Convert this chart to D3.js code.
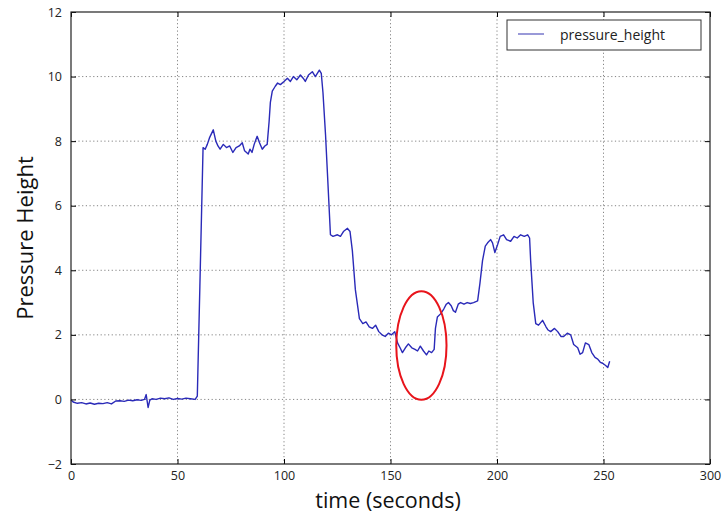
<!DOCTYPE html>
<html>
<head>
<meta charset="utf-8">
<script src="https://cdn.jsdelivr.net/npm/d3@7"></script>
<style>
  body { margin: 0; background: #fff; }
  text { font-family: "Open Sans", sans-serif; }
</style>
</head>
<body>
<div id="chart"></div>
<script>
// data
const timeSec = [0, 1, 3, 5, 7, 9, 11, 13, 15, 17, 19, 21, 23, 25, 27, 29, 31, 33, 34.5, 35.3, 36.2, 37, 38, 40, 42, 44, 46, 48, 50, 52, 54, 56, 58.3, 59.3, 60.5, 62, 63, 64, 65, 66.8, 68, 69, 70, 71.5, 73, 74.5, 76, 77.5, 79, 80.4, 81.5, 83.2, 84, 85, 86, 87.4, 88.5, 89.8, 91, 92.1, 93, 93.6, 94.5, 95.9, 97, 98.3, 100, 101.6, 103, 104.4, 106, 107.7, 109, 110, 111.5, 113.3, 114.7, 116.6, 117.5, 118.3, 119.5, 120.4, 121.8, 123, 125.1, 126.5, 127.9, 129.8, 131, 132.1, 133.5, 135.4, 137, 138.5, 140, 141.5, 143, 144.5, 146, 147.5, 149, 150.5, 152, 153.3, 154.5, 155.6, 157, 158.4, 160, 161.5, 162.7, 164, 165.5, 166.9, 168, 169.3, 170.5, 171.1, 172, 173.5, 175, 176.2, 177.2, 178.5, 179.5, 180.5, 181.8, 182.9, 184.5, 186, 187.5, 189, 190.9, 192, 193.2, 194.5, 195.6, 197, 197.9, 199, 200.3, 201.5, 203.1, 204.5, 206.4, 208, 209.5, 211.1, 212.8, 214.4, 215.3, 215.8, 217, 218.2, 219.5, 221.4, 223, 224, 225.2, 227, 228.5, 230, 231.3, 233, 234.6, 236, 237.9, 239, 240.2, 241.5, 243.1, 244.5, 246, 247.3, 248.5, 249.6, 251, 252, 252.9];
const pressureHeight = [-0.02, -0.08, -0.12, -0.1, -0.14, -0.11, -0.15, -0.12, -0.13, -0.1, -0.14, -0.05, -0.04, -0.06, -0.02, -0.04, -0.01, -0.03, 0.0, 0.15, -0.25, -0.02, 0.02, 0.0, 0.04, 0.02, 0.05, 0.0, 0.03, 0.01, 0.04, 0.02, 0.0, 0.1, 3.5, 7.8, 7.75, 7.9, 8.1, 8.35, 8.0, 7.85, 7.75, 7.9, 7.8, 7.85, 7.65, 7.8, 7.85, 7.95, 7.7, 7.6, 7.75, 7.65, 7.9, 8.15, 7.95, 7.75, 7.85, 7.9, 8.6, 9.2, 9.55, 9.7, 9.8, 9.75, 9.85, 9.95, 9.85, 10.0, 9.9, 10.05, 9.95, 9.85, 10.05, 10.15, 10.0, 10.2, 10.1, 9.5, 8.2, 7.0, 5.1, 5.05, 5.1, 5.05, 5.2, 5.3, 5.2, 4.6, 3.4, 2.5, 2.35, 2.4, 2.25, 2.2, 2.3, 2.1, 2.0, 1.95, 2.05, 2.0, 2.1, 1.75, 1.6, 1.45, 1.6, 1.72, 1.6, 1.55, 1.5, 1.65, 1.5, 1.38, 1.5, 1.45, 1.55, 2.2, 2.55, 2.65, 2.8, 2.95, 3.0, 2.9, 2.75, 2.7, 2.95, 3.0, 2.95, 3.0, 2.97, 3.0, 3.05, 3.6, 4.3, 4.75, 4.85, 4.95, 4.85, 4.55, 4.8, 5.05, 5.1, 4.95, 4.9, 5.05, 5.0, 5.1, 5.05, 5.1, 5.0, 4.3, 3.0, 2.35, 2.3, 2.45, 2.25, 2.15, 2.1, 2.2, 2.1, 1.95, 1.95, 2.05, 2.0, 1.7, 1.6, 1.4, 1.45, 1.75, 1.7, 1.45, 1.3, 1.25, 1.15, 1.12, 1.05, 0.99, 1.18];
const xTicks = [0, 50, 100, 150, 200, 250, 300];
const yTicks = [-2, 0, 2, 4, 6, 8, 10, 12];
// red highlight ellipse (centre time, centre height, half-width in s, half-height)
const highlight = {t: 164.5, v: 1.67, rt: 11.8, rv: 1.68};

const width = 726, height = 513;
const margin = {top: 12, right: 16, bottom: 49, left: 71};
const innerW = width - margin.left - margin.right;
const innerH = height - margin.top - margin.bottom;

const svg = d3.select('#chart').append('svg')
    .attr('width', width)
    .attr('height', height);

const g = svg.append('g')
    .attr('transform', `translate(${margin.left},${margin.top})`);

const x = d3.scaleLinear().domain([0, 300]).range([0, innerW]);
const y = d3.scaleLinear().domain([-2, 12]).range([innerH, 0]);

// grid
g.append('g').selectAll('line')
    .data(xTicks.slice(1, -1)).enter()
    .append('line')
    .attr('x1', d => x(d)).attr('x2', d => x(d))
    .attr('y1', 0).attr('y2', innerH)
    .attr('stroke', '#666').attr('stroke-width', 0.8)
    .attr('stroke-dasharray', '1.2,2.5');
g.append('g').selectAll('line')
    .data(yTicks.slice(1, -1)).enter()
    .append('line')
    .attr('x1', 0).attr('x2', innerW)
    .attr('y1', d => y(d)).attr('y2', d => y(d))
    .attr('stroke', '#666').attr('stroke-width', 0.8)
    .attr('stroke-dasharray', '1.2,2.5');

// the line
const data = timeSec.map((t, i) => ({t: t, v: pressureHeight[i]}));
const line = d3.line().x(d => x(d.t)).y(d => y(d.v));
g.append('path')
    .datum(data)
    .attr('d', line)
    .attr('fill', 'none')
    .attr('stroke', '#2a2ab8')
    .attr('stroke-width', 1.4)
    .attr('stroke-linejoin', 'round');

// red ellipse
g.append('ellipse')
    .attr('cx', x(highlight.t))
    .attr('cy', y(highlight.v))
    .attr('rx', x(highlight.rt) - x(0))
    .attr('ry', y(0) - y(highlight.rv))
    .attr('fill', 'none')
    .attr('stroke', '#e8141b')
    .attr('stroke-width', 2);

// axes (ticks inside, classic style)
const fmt = d => d < 0 ? '\u2212' + Math.abs(d) : String(d);
g.append('g')
    .attr('transform', `translate(0,${innerH})`)
    .call(d3.axisBottom(x).tickValues(xTicks).tickSizeInner(-5).tickSizeOuter(0).tickPadding(7).tickFormat(fmt));
g.append('g')
    .call(d3.axisLeft(y).tickValues(yTicks).tickSizeInner(-5).tickSizeOuter(0).tickPadding(9).tickFormat(fmt));
g.append('g')
    .call(d3.axisTop(x).tickValues(xTicks).tickSizeInner(-5).tickSizeOuter(0).tickFormat(''));
g.append('g')
    .attr('transform', `translate(${innerW},0)`)
    .call(d3.axisRight(y).tickValues(yTicks).tickSizeInner(-5).tickSizeOuter(0).tickFormat(''));

g.selectAll('.domain').remove();
g.selectAll('.tick line').attr('stroke', '#000');
g.selectAll('.tick text').attr('font-size', 12.5).attr('fill', '#222')
    .style('font-family', '"Open Sans", sans-serif');

// frame
g.append('rect')
    .attr('width', innerW).attr('height', innerH)
    .attr('fill', 'none').attr('stroke', '#222').attr('stroke-width', 1.2);

// axis labels
svg.append('text')
    .attr('x', 388)
    .attr('y', 508)
    .attr('text-anchor', 'middle')
    .attr('font-size', 21.5)
    .attr('fill', '#111')
    .text('time (seconds)');
svg.append('text')
    .attr('transform', `translate(33,238) rotate(-90)`)
    .attr('text-anchor', 'middle')
    .attr('font-size', 22)
    .attr('fill', '#111')
    .text('Pressure Height');

// legend
const lg = g.append('g').attr('transform', `translate(${innerW - 203},${8})`);
lg.append('rect')
    .attr('width', 194).attr('height', 30)
    .attr('fill', '#fff').attr('stroke', '#333').attr('stroke-width', 1);
lg.append('line')
    .attr('x1', 11).attr('x2', 37).attr('y1', 14).attr('y2', 14)
    .attr('stroke', '#6d6dc8').attr('stroke-width', 1.4);
lg.append('text')
    .attr('x', 53).attr('y', 19.5)
    .attr('font-size', 14).attr('fill', '#222')
    .text('pressure_height');
</script>
</body>
</html>
